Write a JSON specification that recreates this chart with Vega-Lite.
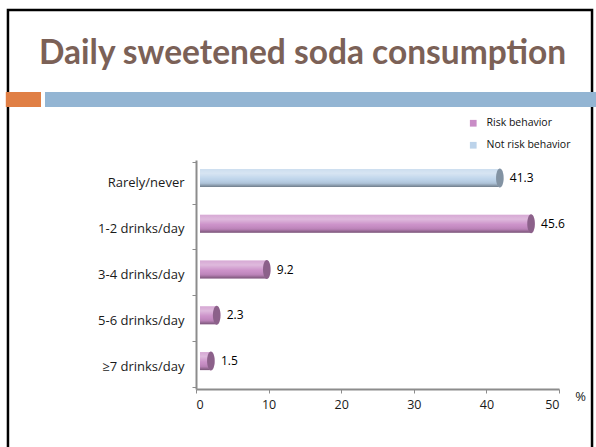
{
  "$schema": "https://vega.github.io/schema/vega-lite/v6.json",
  "autosize": {"type": "none"},
  "padding": {"left": 196, "top": 160, "right": 37, "bottom": 58},
  "width": 363,
  "height": 229,
  "background": "white",
  "config": {"view": {"stroke": null}},
  "title": {
    "text": "Daily sweetened soda consumption",
    "anchor": "start",
    "frame": "group",
    "dx": -157,
    "offset": 0,
    "dy": 89,
    "baseline": "alphabetic",
    "font": "Lato",
    "fontSize": 33.5,
    "fontWeight": "bold",
    "color": "#7b6157"
  },
  "datasets": {
    "soda": [
      {"category": "Rarely/never", "value": 41.3, "series": "Not risk behavior"},
      {"category": "1-2 drinks/day", "value": 45.6, "series": "Risk behavior"},
      {"category": "3-4 drinks/day", "value": 9.2, "series": "Risk behavior"},
      {"category": "5-6 drinks/day", "value": 2.3, "series": "Risk behavior"},
      {"category": "≥7 drinks/day", "value": 1.5, "series": "Risk behavior"}
    ],
    "slide": [
      {"part": "frame", "x0": -25.9, "x1": 54.55, "y0": 379, "y1": -80},
      {"part": "accent", "x0": -26.2, "x1": -21.35, "y0": 297, "y1": 282},
      {"part": "band", "x0": -20.8, "x1": 55.2, "y0": 297, "y1": 282}
    ]
  },
  "layer": [
    {
      "data": {"name": "slide"},
      "transform": [{"filter": "datum.part === 'frame'"}],
      "mark": {"type": "rect", "fill": null, "stroke": "#000000", "strokeWidth": 2.5, "clip": false},
      "encoding": {
        "x": {"field": "x0", "type": "quantitative", "scale": {"domain": [0, 50], "nice": false}},
        "x2": {"field": "x1"},
        "y": {"field": "y0", "type": "quantitative", "scale": {"domain": [0, 229], "nice": false}, "axis": null},
        "y2": {"field": "y1"}
      }
    },
    {
      "data": {"name": "slide"},
      "transform": [{"filter": "datum.part !== 'frame'"}],
      "mark": {"type": "rect", "clip": false},
      "encoding": {
        "x": {"field": "x0", "type": "quantitative", "scale": {"domain": [0, 50], "nice": false}},
        "x2": {"field": "x1"},
        "y": {"field": "y0", "type": "quantitative", "scale": {"domain": [0, 229], "nice": false}, "axis": null},
        "y2": {"field": "y1"},
        "fill": {"field": "part", "type": "nominal", "scale": {"domain": ["accent", "band"], "range": ["#e07f45", "#93b5d3"]}, "legend": null}
      }
    },
    {
      "data": {"name": "soda"},
      "layer": [
        {
          "mark": {"type": "bar", "size": 18, "xOffset": 4, "x2Offset": 4, "yOffset": -5, "y2Offset": -5},
          "encoding": {
            "color": {
              "field": "series", "type": "nominal",
              "scale": {"domain": ["Risk behavior", "Not risk behavior"], "range": ["#c98cc6", "#bcd3ea"]},
              "legend": {
                "title": null, "orient": "none", "legendX": 272, "legendY": -42,
                "symbolType": "square", "symbolSize": 45, "symbolStrokeWidth": 0,
                "labelFont": "Open Sans", "labelFontSize": 10.5, "labelColor": "#111111",
                "labelOffset": 8, "rowPadding": 11, "padding": 0
              }
            }
          }
        },
        {
          "mark": {
            "type": "bar", "size": 18, "xOffset": 4, "x2Offset": 4, "yOffset": -5, "y2Offset": -5,
            "fill": {
              "gradient": "linear", "x1": 0, "y1": 0, "x2": 0, "y2": 1,
              "stops": [
                {"offset": 0, "color": "rgba(255,255,255,0.25)"},
                {"offset": 0.25, "color": "rgba(255,255,255,0.4)"},
                {"offset": 0.55, "color": "rgba(255,255,255,0.05)"},
                {"offset": 0.8, "color": "rgba(0,0,0,0.08)"},
                {"offset": 1, "color": "rgba(0,0,0,0.4)"}
              ]
            }
          },
          "encoding": {}
        },
        {
          "mark": {"type": "point", "filled": true, "opacity": 1, "shape": "M0,-1A0.4,1 0 1,1 0,1A0.4,1 0 1,1 0,-1Z", "size": 361, "xOffset": 4, "yOffset": -5},
          "encoding": {
            "color": {"field": "series", "type": "nominal"}
          }
        },
        {
          "mark": {"type": "point", "filled": true, "fill": "#000000", "opacity": 0.3, "shape": "M0,-1A0.4,1 0 1,1 0,1A0.4,1 0 1,1 0,-1Z", "size": 361, "xOffset": 4, "yOffset": -5},
          "encoding": {}
        },
        {
          "mark": {"type": "text", "align": "left", "baseline": "middle", "dx": 14, "yOffset": -5, "font": "Open Sans", "fontSize": 12, "color": "#000000"},
          "encoding": {"text": {"field": "value", "type": "quantitative", "format": ".1f"}}
        }
      ],
      "encoding": {
        "y": {
          "field": "category", "type": "nominal",
          "sort": ["Rarely/never", "1-2 drinks/day", "3-4 drinks/day", "5-6 drinks/day", "≥7 drinks/day"],
          "axis": {
            "title": null, "domainColor": "#8c8c8c", "domainWidth": 2, "tickColor": "#8c8c8c",
            "tickSize": 4, "tickBand": "extent", "labelFont": "Open Sans", "labelFontSize": 13,
            "labelColor": "#1a1a1a", "labelPadding": 8
          }
        },
        "x": {
          "field": "value", "type": "quantitative",
          "scale": {"domain": [0, 50], "nice": false},
          "axis": {
            "values": [0, 10, 20, 30, 40, 50], "grid": false, "title": "%",
            "domainColor": "#8c8c8c", "domainWidth": 2, "tickColor": "#8c8c8c", "tickSize": 4,
            "labelFont": "Open Sans", "labelFontSize": 12.5, "labelColor": "#1a1a1a", "labelPadding": 5,
            "titleAngle": 0, "titleX": 384, "titleY": 7, "titleAlign": "center", "titleBaseline": "middle",
            "titleFont": "Open Sans", "titleFontWeight": "normal", "titleFontSize": 13, "titleColor": "#1a1a1a"
          }
        }
      }
    }
  ],
  "resolve": {"scale": {"y": "independent", "fill": "independent"}}
}
